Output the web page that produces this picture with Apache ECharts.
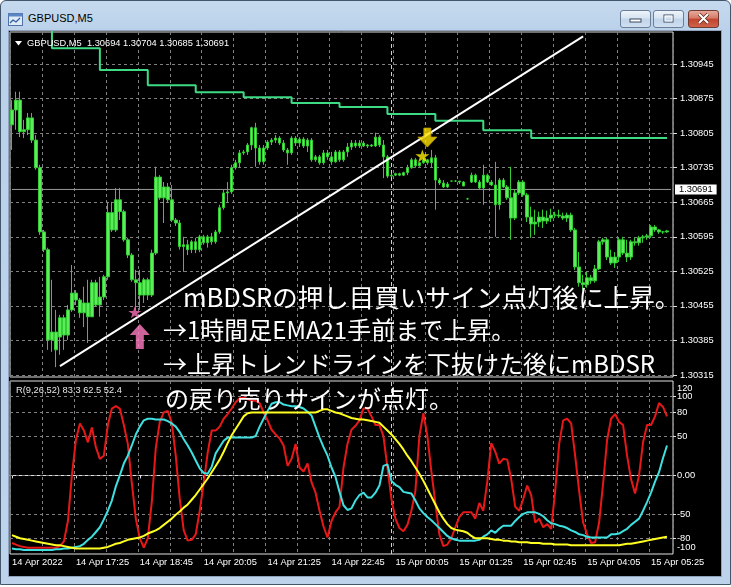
<!DOCTYPE html>
<html><head><meta charset="utf-8">
<script src="https://cdn.jsdelivr.net/npm/echarts@6/dist/echarts.min.js"></script>
<style>
html,body{margin:0;padding:0;background:#fff;width:731px;height:587px;overflow:hidden;position:relative;}
#frame{position:absolute;left:0;top:0;width:731px;height:585px;box-sizing:border-box;border:1px solid #44566c;border-radius:6px 6px 0 0;background:linear-gradient(#c6daee,#bad1ea 30px,#bcd3eb);}
#client{position:absolute;left:9px;top:31px;width:712px;height:545px;background:#000;box-shadow:0 0 0 1px #8ea3bb;}
#title{position:absolute;left:28px;top:12px;font:11px "Liberation Sans",sans-serif;color:#000;}
#icon{position:absolute;left:8px;top:13px;width:15px;height:13px;}
.btn{position:absolute;top:10px;height:18px;width:31px;border:1px solid #6a7e98;border-radius:3px;box-sizing:border-box;background:linear-gradient(#eef4fa,#d6e3f1 45%,#c2d4e9 50%,#cfdff1);}
#bclose{background:linear-gradient(#e9a99c,#d47a68 45%,#c2432d 50%,#d0634a);border-color:#6e3a33;width:31px;}
#chart{position:absolute;left:0;top:0;width:731px;height:587px;}
</style></head>
<body>
<div id="frame"></div>
<svg id="icon" viewBox="0 0 15 13"><rect x="0.5" y="0.5" width="14" height="12" fill="#dfeaf7" stroke="#4f73a8"/><rect x="0.5" y="0.5" width="14" height="3" fill="#5b86c4"/><polyline points="2,10 5,7 8,9 12,5" fill="none" stroke="#2c5aa0" stroke-width="1.2"/></svg>
<div id="title">GBPUSD,M5</div>
<div class="btn" style="left:620px"><svg width="29" height="16" style="position:absolute;left:0;top:0"><rect x="9" y="8" width="11" height="3" fill="#fff" stroke="#3b4a5e" stroke-width="1"/></svg></div>
<div class="btn" style="left:653px"><svg width="29" height="16" style="position:absolute;left:0;top:0"><rect x="10" y="4" width="9" height="7" fill="none" stroke="#3b4a5e" stroke-width="1"/><rect x="11" y="5" width="7" height="5" fill="none" stroke="#fff" stroke-width="1"/></svg></div>
<div class="btn" id="bclose" style="left:688px"><svg width="29" height="16" style="position:absolute;left:0;top:0"><path d="M10,3 L19,12 M19,3 L10,12" stroke="#5a2820" stroke-width="3.4"/><path d="M10,3 L19,12 M19,3 L10,12" stroke="#fff" stroke-width="2"/></svg></div>
<div id="client"></div>
<div id="chart"></div>
<script>
// ---------- data ----------
const tickLabels = ['14 Apr 2022','14 Apr 17:25','14 Apr 18:45','14 Apr 20:05','14 Apr 21:25','14 Apr 22:45','15 Apr 00:05','15 Apr 01:25','15 Apr 02:45','15 Apr 04:05','15 Apr 05:25'];
const priceTicks = [1.30315,1.30385,1.30455,1.30525,1.30595,1.30665,1.30735,1.30805,1.30875,1.30945];
const oscTicks = [100,80,50,0,-50,-80];
const oscEdge = [120,-100];
const bidPrice = 1.30691;
const headerText = 'GBPUSD,M5  1.30694 1.30704 1.30685 1.30691';
const oscLabel = 'R(9,26,52) 83.3 62.5 52.4';

const openP = [1.30822,1.30852,1.30872,1.30808,1.30812,1.30836,1.30791,1.30735,1.30605,1.30569,
1.30386,1.30402,1.30392,1.30431,1.30396,1.30447,1.30481,1.30467,1.30441,1.30461,
1.30433,1.30502,1.30457,1.30473,1.30514,1.30644,1.30609,1.30670,1.30646,1.30589,
1.30558,1.30508,1.30502,1.30477,1.30508,1.30477,1.30562,1.30716,1.30674,1.30696,
1.30670,1.30629,1.30623,1.30575,1.30579,1.30569,1.30585,1.30569,1.30595,1.30583,
1.30595,1.30585,1.30605,1.30654,1.30684,1.30686,1.30735,1.30745,1.30765,1.30767,
1.30781,1.30816,1.30775,1.30747,1.30775,1.30787,1.30791,1.30795,1.30785,1.30771,
1.30765,1.30795,1.30785,1.30793,1.30779,1.30791,1.30751,1.30757,1.30745,1.30765,
1.30757,1.30747,1.30767,1.30751,1.30767,1.30777,1.30785,1.30779,1.30785,1.30779,
1.30781,1.30779,1.30797,1.30781,1.30757,1.30718,1.30720,1.30723,1.30720,1.30725,
1.30735,1.30751,1.30739,1.30745,1.30751,1.30745,1.30755,1.30710,1.30704,1.30696,
1.30708,1.30708,1.30708,1.30706,1.30672,1.30706,1.30720,1.30706,1.30694,1.30720,
1.30706,1.30700,1.30660,1.30710,1.30696,1.30674,1.30633,1.30684,1.30706,1.30680,
1.30635,1.30621,1.30625,1.30635,1.30627,1.30633,1.30639,1.30639,1.30637,1.30633,
1.30639,1.30609,1.30534,1.30502,1.30498,1.30512,1.30506,1.30530,1.30585,1.30589,
1.30554,1.30542,1.30554,1.30589,1.30562,1.30554,1.30585,1.30583,1.30593,1.30595,
1.30597,1.30615,1.30609,1.30605,1.30605];
const closeP = [1.30852,1.30872,1.30808,1.30812,1.30836,1.30791,1.30735,1.30605,1.30569,1.30386,
1.30402,1.30366,1.30431,1.30396,1.30447,1.30481,1.30467,1.30441,1.30461,1.30433,
1.30502,1.30457,1.30473,1.30514,1.30644,1.30609,1.30670,1.30646,1.30589,1.30558,
1.30508,1.30502,1.30477,1.30508,1.30477,1.30562,1.30716,1.30674,1.30696,1.30670,
1.30629,1.30623,1.30575,1.30579,1.30569,1.30585,1.30569,1.30595,1.30583,1.30595,
1.30585,1.30605,1.30654,1.30684,1.30686,1.30735,1.30745,1.30765,1.30767,1.30781,
1.30816,1.30775,1.30747,1.30775,1.30787,1.30791,1.30795,1.30785,1.30771,1.30765,
1.30795,1.30785,1.30793,1.30779,1.30791,1.30751,1.30757,1.30745,1.30765,1.30757,
1.30747,1.30767,1.30751,1.30767,1.30777,1.30785,1.30779,1.30785,1.30779,1.30781,
1.30779,1.30797,1.30781,1.30757,1.30718,1.30720,1.30723,1.30720,1.30725,1.30735,
1.30751,1.30739,1.30745,1.30751,1.30745,1.30755,1.30710,1.30704,1.30696,1.30702,
1.30708,1.30708,1.30706,1.30698,1.30672,1.30720,1.30706,1.30694,1.30720,1.30706,
1.30700,1.30660,1.30710,1.30696,1.30674,1.30633,1.30684,1.30706,1.30680,1.30635,
1.30621,1.30625,1.30635,1.30627,1.30633,1.30639,1.30639,1.30637,1.30633,1.30639,
1.30609,1.30534,1.30502,1.30498,1.30512,1.30506,1.30530,1.30585,1.30589,1.30554,
1.30542,1.30554,1.30589,1.30562,1.30554,1.30585,1.30583,1.30593,1.30595,1.30597,
1.30615,1.30609,1.30605,1.30605,1.30607];
const lowP = [1.30771,1.30812,1.30797,1.30795,1.30801,1.30785,1.30731,1.30599,1.30564,1.30366,
1.30362,1.30331,1.30356,1.30366,1.30386,1.30443,1.30457,1.30431,1.30412,1.30380,
1.30433,1.30453,1.30433,1.30467,1.30508,1.30605,1.30605,1.30629,1.30585,1.30552,
1.30504,1.30447,1.30447,1.30461,1.30467,1.30473,1.30558,1.30670,1.30623,1.30664,
1.30625,1.30617,1.30569,1.30524,1.30558,1.30562,1.30562,1.30564,1.30579,1.30573,
1.30579,1.30581,1.30601,1.30650,1.30664,1.30682,1.30731,1.30735,1.30761,1.30761,
1.30771,1.30737,1.30741,1.30741,1.30771,1.30781,1.30785,1.30781,1.30767,1.30741,
1.30761,1.30779,1.30777,1.30775,1.30767,1.30747,1.30747,1.30741,1.30741,1.30751,
1.30741,1.30745,1.30747,1.30747,1.30757,1.30771,1.30775,1.30775,1.30777,1.30775,
1.30777,1.30777,1.30777,1.30714,1.30714,1.30716,1.30718,1.30718,1.30718,1.30720,
1.30733,1.30735,1.30737,1.30743,1.30741,1.30735,1.30650,1.30700,1.30694,1.30694,
1.30706,1.30706,1.30702,1.30698,1.30670,1.30704,1.30704,1.30692,1.30660,1.30704,
1.30698,1.30595,1.30650,1.30694,1.30670,1.30589,1.30629,1.30680,1.30676,1.30625,
1.30593,1.30599,1.30615,1.30613,1.30621,1.30625,1.30633,1.30633,1.30629,1.30625,
1.30605,1.30528,1.30494,1.30487,1.30492,1.30500,1.30502,1.30528,1.30579,1.30548,
1.30538,1.30532,1.30544,1.30558,1.30544,1.30548,1.30577,1.30577,1.30583,1.30589,
1.30593,1.30605,1.30601,1.30601,1.30603];
const highP = [1.30872,1.30889,1.30889,1.30832,1.30846,1.30846,1.30801,1.30741,1.30609,1.30573,
1.30508,1.30447,1.30437,1.30437,1.30457,1.30538,1.30487,1.30471,1.30494,1.30508,
1.30508,1.30508,1.30514,1.30518,1.30666,1.30666,1.30694,1.30694,1.30650,1.30593,
1.30562,1.30528,1.30528,1.30512,1.30512,1.30569,1.30737,1.30720,1.30706,1.30704,
1.30700,1.30633,1.30629,1.30595,1.30589,1.30589,1.30593,1.30599,1.30599,1.30599,
1.30603,1.30609,1.30660,1.30690,1.30706,1.30741,1.30751,1.30771,1.30771,1.30785,
1.30818,1.30826,1.30781,1.30781,1.30791,1.30795,1.30801,1.30799,1.30791,1.30775,
1.30799,1.30799,1.30797,1.30797,1.30795,1.30795,1.30761,1.30761,1.30771,1.30771,
1.30767,1.30771,1.30771,1.30771,1.30785,1.30791,1.30791,1.30791,1.30789,1.30783,
1.30783,1.30806,1.30801,1.30791,1.30761,1.30723,1.30725,1.30725,1.30727,1.30741,
1.30755,1.30755,1.30747,1.30755,1.30753,1.30771,1.30761,1.30714,1.30710,1.30706,
1.30708,1.30710,1.30708,1.30708,1.30674,1.30725,1.30723,1.30710,1.30741,1.30723,
1.30710,1.30747,1.30714,1.30714,1.30700,1.30737,1.30690,1.30710,1.30710,1.30684,
1.30656,1.30650,1.30646,1.30650,1.30648,1.30652,1.30646,1.30650,1.30644,1.30644,
1.30644,1.30613,1.30564,1.30518,1.30524,1.30518,1.30538,1.30589,1.30593,1.30593,
1.30569,1.30564,1.30593,1.30595,1.30589,1.30589,1.30593,1.30597,1.30599,1.30601,
1.30619,1.30619,1.30611,1.30607,1.30609];
// 1-hour EMA21 (stepped)
const emaH1 = [1.31030,1.31030,1.31030,1.31030,1.31030,1.31030,1.31030,1.31030,1.31030,1.31030,
1.30977,1.30977,1.30977,1.30977,1.30977,1.30977,1.30977,1.30977,1.30977,1.30977,1.30977,1.30977,
1.30933,1.30933,1.30933,1.30933,1.30933,1.30933,1.30933,1.30933,1.30933,1.30933,1.30933,1.30933,
1.30902,1.30902,1.30902,1.30902,1.30902,1.30902,1.30902,1.30902,1.30902,1.30902,1.30902,1.30902,
1.30888,1.30888,1.30888,1.30888,1.30888,1.30888,1.30888,1.30888,1.30888,1.30888,1.30888,1.30888,
1.30878,1.30878,1.30878,1.30878,1.30878,1.30878,1.30878,1.30878,1.30878,1.30878,1.30878,1.30878,
1.30866,1.30866,1.30866,1.30866,1.30866,1.30866,1.30866,1.30866,1.30866,1.30866,1.30866,1.30866,
1.30858,1.30858,1.30858,1.30858,1.30858,1.30858,1.30858,1.30858,1.30858,1.30858,1.30858,1.30858,
1.30844,1.30844,1.30844,1.30844,1.30844,1.30844,1.30844,1.30844,1.30844,1.30844,1.30844,1.30844,
1.30830,1.30830,1.30830,1.30830,1.30830,1.30830,1.30830,1.30830,1.30830,1.30830,1.30830,1.30830,
1.30811,1.30811,1.30811,1.30811,1.30811,1.30811,1.30811,1.30811,1.30811,1.30811,1.30811,1.30811,
1.30795,1.30795,1.30795,1.30795,1.30795,1.30795,1.30795,1.30795,1.30795,1.30795,1.30795,1.30795,
1.30795,1.30795,1.30795,1.30795,1.30795,1.30795,1.30795,1.30795,1.30795,1.30795,1.30795,1.30795,
1.30795,1.30795,1.30795,1.30795,1.30795,1.30795,1.30795,1.30795,1.30795,1.30795,1.30795];
// trend line end points [bar index, price]
const trendIdx = [12, 143];
const trendPrice = [1.30333, 1.31001];
// bid line spans the whole window [first bar, last slot]
const bidIdx = [0, 165];
// signals
const buyStar = [31, 1.30442], buyArrow = [32, 1.30393];
const sellStar = [103, 1.30759], sellArrow = [104, 1.30796];
// oscillator R(9,26,52)
const rFast = [-86,-88,-90,-91,-92,-92,-92,-92,-92,-92,-92,-92,-90,-84,-58,0,45,66,57,42,
61,36,21,25,64,85,88,85,64,40,-10,-55,-80,-92,-80,-34,35,68,80,82,
67,25,-30,-70,-83,-82,-75,-45,-10,29,57,57,62,72,78,85,93,98,99,97,
95,95,92,80,70,58,52,47,38,12,21,40,10,5,15,-9,-22,-45,-65,-79,
-58,-47,-40,10,40,58,63,70,85,85,75,64,64,50,10,-30,-55,-67,-71,-63,
-45,-20,50,79,50,5,-35,-75,-90,-88,-80,-66,-53,-47,-47,-47,-55,-35,-45,-8,
41,30,15,21,20,-5,-40,-45,-30,-13,-25,-60,-55,-66,-62,-68,-20,40,70,72,
66,25,-20,-60,-75,-86,-85,-60,-10,45,72,78,68,64,25,-5,-23,0,42,64,
64,75,92,87,75];
const rMid = [-93,-94,-94,-95,-95,-95,-95,-95,-95,-95,-95,-94,-94,-93,-93,-92,-91,-90,-87,-82,
-78,-72,-66,-56,-45,-32,-14,0,15,25,38,52,62,70,72,72,71,71,71,69,
66,62,55,46,38,29,19,9,3,2,11,28,36,44,48,48,48,48,48,48,
48,50,62,72,82,91,93,93,90,89,88,88,87,85,81,76,62,48,36,25,
10,-2,-21,-38,-44,-42,-32,-25,-22,-28,-28,-22,-13,12,14,-7,-12,-15,-21,-22,
-23,-32,-42,-48,-53,-57,-62,-67,-72,-77,-80,-82,-83,-83,-83,-83,-83,-82,-78,-75,
-70,-73,-68,-64,-64,-64,-58,-53,-49,-47,-47,-47,-49,-52,-57,-61,-62,-64,-65,-67,
-70,-72,-75,-76,-78,-79,-79,-79,-79,-79,-75,-75,-74,-71,-68,-63,-59,-55,-45,-34,
-22,-8,4,22,38];
const rSlow = [-76,-78,-80,-81,-82,-83,-84,-85,-86,-87,-88,-89,-89,-90,-91,-92,-93,-93,-93,-93,
-93,-93,-93,-92,-91,-89,-87,-86,-84,-82,-81,-80,-79,-77,-74,-72,-70,-67,-63,-59,
-55,-50,-46,-41,-37,-31,-25,-18,-11,-4,4,12,20,30,41,51,59,67,75,79,
80,80,80,80,80,80,80,80,80,80,80,80,80,80,80,80,80,82,84,84,
82,80,79,77,75,73,72,71,71,70,69,68,67,62,57,52,46,40,33,25,
18,10,2,-7,-17,-27,-37,-47,-55,-62,-67,-69,-70,-71,-73,-77,-80,-80,-80,-80,
-81,-82,-82,-83,-83,-84,-84,-85,-85,-85,-86,-86,-86,-87,-87,-87,-88,-88,-88,-88,
-89,-89,-89,-89,-89,-89,-89,-89,-89,-89,-89,-89,-89,-88,-87,-87,-86,-85,-84,-83,
-82,-81,-80,-79,-78];
const dayBreakIdx = 95; // 15 Apr 00:00

// ---------- chart ----------
const nCat = 166;
const cats = [];
for (let i = 0; i < nCat; i++) {
  const m = 16 * 60 + 5 + 5 * i;
  const d = m >= 1440 ? 15 : 14, mm = m % 1440;
  cats.push(d + ' Apr ' + String(Math.floor(mm / 60)).padStart(2, '0') + ':' + String(mm % 60).padStart(2, '0'));
}
const bars = openP.map((o, i) => [o, closeP[i], lowP[i], highP[i]]);
const FONT = 'Liberation Sans';
const gridLine = {color: '#808080', type: [3, 3], width: 1};
const splitFn = (i) => i % 8 === 0;
const labFn = (i) => i % 16 === 0;
const starPath = 'path://M50,0L61.2,34.5L97.6,34.5L68.2,55.9L79.4,90.5L50,69.1L20.6,90.5L31.8,55.9L2.4,34.5L38.8,34.5Z';
const upArrow = 'path://M10,0L20,11L14,11L14,25L6,25L6,11L0,11Z';
const downArrow = 'path://M6,0L13,0L13,9L19,9L9.5,19L0,9L6,9Z';
const txt = (x, y, text, font, fill, z) => ({type: 'text', z: z || 50, x: x, y: y,
  style: {text: text, fill: fill || '#fff', font: font, verticalAlign: 'middle', textVerticalAlign: 'middle'}});

const chart = echarts.init(document.getElementById('chart'), null, {renderer: 'canvas'});
chart.setOption({
  animation: false,
  backgroundColor: 'transparent',
  grid: [
    {left: 10, top: 32, width: 663, height: 345, show: true, borderColor: '#e0e0e0', borderWidth: 1, backgroundColor: 'transparent'},
    {left: 10, top: 381, width: 663, height: 173, show: true, borderColor: '#e0e0e0', borderWidth: 1, backgroundColor: 'transparent'}
  ],
  xAxis: [
    {type: 'category', gridIndex: 0, data: cats, boundaryGap: true,
     axisLine: {show: false}, axisTick: {show: false}, axisLabel: {show: false},
     splitLine: {show: true, interval: splitFn, lineStyle: gridLine}},
    {type: 'category', gridIndex: 1, data: cats, boundaryGap: true,
     axisLine: {show: true, lineStyle: {color: '#e0e0e0'}},
     axisTick: {show: true, interval: labFn, alignWithLabel: true, length: 3, lineStyle: {color: '#e0e0e0'}},
     axisLabel: {interval: labFn, formatter: (v, i) => tickLabels[i / 16], color: '#fff', fontSize: 9.3, fontFamily: FONT, align: 'left', margin: 4},
     splitLine: {show: true, interval: splitFn, lineStyle: gridLine}}
  ],
  yAxis: [
    {type: 'value', gridIndex: 0, position: 'right', min: 1.30311, max: 1.31010,
     axisLine: {show: false}, splitLine: {show: false},
     axisTick: {show: true, customValues: priceTicks, length: 4, lineStyle: {color: '#e0e0e0'}},
     axisLabel: {customValues: priceTicks, formatter: v => v.toFixed(5), color: '#fff', fontSize: 9.3, fontFamily: FONT, margin: 7}},
    {type: 'value', gridIndex: 1, position: 'right', min: -100, max: 120,
     axisLine: {show: false}, splitLine: {show: false},
     axisTick: {show: true, customValues: oscTicks, length: 3, lineStyle: {color: '#e0e0e0'}},
     axisLabel: {customValues: oscTicks, color: '#fff', fontSize: 9.3, fontFamily: FONT, margin: 4,
       formatter: v => (v === 0 ? '0.00' : String(v))}}
  ],
  series: [
    {type: 'line', name: 'bid', xAxisIndex: 0, yAxisIndex: 0, data: [[bidIdx[0], bidPrice], [bidIdx[1], bidPrice]],
     symbol: 'none', z: 1, silent: true, lineStyle: {color: '#9a9a9a', width: 1},
     endLabel: {show: true, formatter: () => bidPrice.toFixed(5), color: '#000', backgroundColor: '#fff',
                padding: [1, 4, 0, 4], distance: 4, fontSize: 9.3, fontFamily: FONT}},
    {type: 'line', name: 'EMA21 H1', xAxisIndex: 0, yAxisIndex: 0, data: emaH1, step: 'end', symbol: 'none', z: 3,
     lineStyle: {color: '#3ddc84', width: 2}, clip: true,
     markLine: {silent: true, z: 1, precision: 5, symbol: ['none', 'none'], animation: false, label: {show: false}, lineStyle: gridLine,
       data: priceTicks.map(v => ({yAxis: v})).concat([
         {xAxis: dayBreakIdx, lineStyle: {color: '#d0d0d0', type: [4, 3], width: 1}}
       ])}},
    {type: 'candlestick', name: 'GBPUSD', xAxisIndex: 0, yAxisIndex: 0, data: bars, barWidth: 3, z: 2,
     itemStyle: {color: '#5cec5c', color0: '#5cec5c', borderColor: '#33cc33', borderColor0: '#33cc33', borderWidth: 1}},
    {type: 'line', name: 'trend', xAxisIndex: 0, yAxisIndex: 0, data: [[trendIdx[0], trendPrice[0]], [trendIdx[1], trendPrice[1]]],
     symbol: 'none', z: 4, lineStyle: {color: '#ffffff', width: 2}},
    {type: 'scatter', xAxisIndex: 0, yAxisIndex: 0, data: [buyStar], symbol: starPath, symbolSize: [13, 12], symbolOffset: [-1, 0], z: 5,
     itemStyle: {color: '#ff6fb8'}, silent: true},
    {type: 'scatter', xAxisIndex: 0, yAxisIndex: 0, data: [buyArrow], symbol: upArrow, symbolSize: [20, 25], z: 5,
     itemStyle: {color: '#ff7cc2'}, silent: true},
    {type: 'scatter', xAxisIndex: 0, yAxisIndex: 0, data: [sellStar], symbol: starPath, symbolSize: [14, 13], symbolOffset: [-1, 0], z: 5,
     itemStyle: {color: '#ffee00'}, silent: true},
    {type: 'scatter', xAxisIndex: 0, yAxisIndex: 0, data: [sellArrow], symbol: downArrow, symbolSize: [19, 19], z: 5,
     itemStyle: {color: '#ffe400', borderColor: '#c9a200', borderWidth: 1}, silent: true},
    {type: 'line', name: 'R9', xAxisIndex: 1, yAxisIndex: 1, data: rFast, symbol: 'none', z: 2,
     lineStyle: {color: '#e81818', width: 2},
     markLine: {silent: true, z: 1, symbol: ['none', 'none'], animation: false, label: {show: false}, lineStyle: gridLine,
       data: oscTicks.map(v => ({yAxis: v})).concat([{xAxis: dayBreakIdx, lineStyle: {color: '#d0d0d0', type: [4, 3], width: 1}}])}},
    {type: 'line', name: 'R26', xAxisIndex: 1, yAxisIndex: 1, data: rMid, symbol: 'none', z: 3,
     lineStyle: {color: '#3ee0e0', width: 2}},
    {type: 'line', name: 'R52', xAxisIndex: 1, yAxisIndex: 1, data: rSlow, symbol: 'none', z: 4,
     lineStyle: {color: '#ffff22', width: 2}}
  ],
  graphic: [
    {type: 'polygon', z: 50, shape: {points: [[15, 41], [22, 41], [18.5, 45.5]]}, style: {fill: '#fff'}},
    txt(27, 43.5, headerText, '9.3px "Liberation Sans"'),
    txt(16, 390, oscLabel, '9.3px "Liberation Sans"', '#e8e8e8'),
    txt(677, 388, String(oscEdge[0]), '9.3px "Liberation Sans"'),
    txt(677, 547, String(oscEdge[1]), '9.3px "Liberation Sans"'),
    txt(183, 297, 'mBDSRの押し目買いサイン点灯後に上昇。', '25.5px "Noto Sans CJK JP"', '#fff', 100),
    txt(163, 330, '→1時間足EMA21手前まで上昇。', '24px "Noto Sans CJK JP"', '#fff', 100),
    txt(163, 364, '→上昇トレンドラインを下抜けた後にmBDSR', '24px "Noto Sans CJK JP"', '#fff', 100),
    txt(165, 399, 'の戻り売りサインが点灯。', '24px "Noto Sans CJK JP"', '#fff', 100)
  ]
});
</script>
</body></html>
